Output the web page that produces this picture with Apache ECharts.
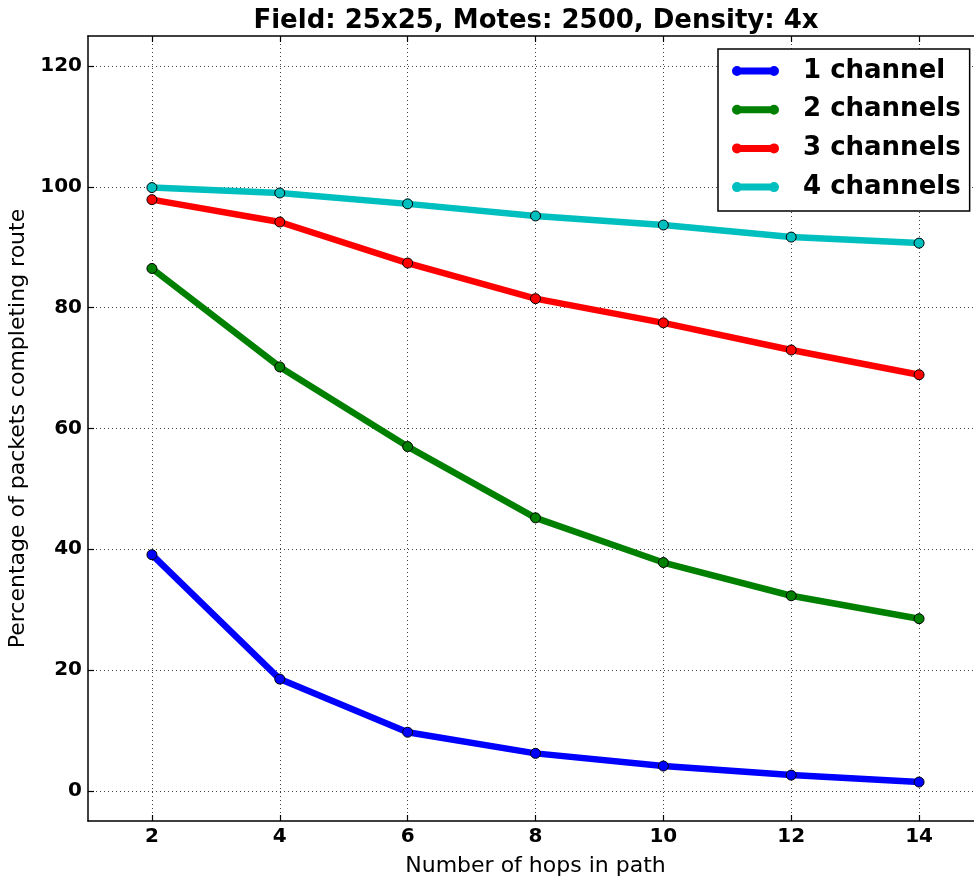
<!DOCTYPE html>
<html>
<head>
<meta charset="utf-8">
<script src="https://cdn.jsdelivr.net/npm/echarts@6/dist/echarts.min.js"></script>
<style>
  html, body { margin: 0; padding: 0; background: #fff; }
  #chart { width: 974px; height: 880px; }
</style>
</head>
<body>
<div id="chart"></div>
<script>
const hops = [2, 4, 6, 8, 10, 12, 14]
const oneChannel = [39.1, 18.5, 9.7, 6.2, 4.1, 2.6, 1.45]
const twoChannels = [86.5, 70.2, 57.0, 45.2, 37.8, 32.3, 28.5]
const threeChannels = [97.9, 94.2, 87.4, 81.5, 77.5, 73.0, 68.9]
const fourChannels = [99.9, 99.0, 97.2, 95.2, 93.7, 91.7, 90.7]
const seriesNames = ['1 channel', '2 channels', '3 channels', '4 channels']
const seriesColors = ['#0000ff', '#008000', '#ff0000', '#00bfbf']
const xTicks = [2, 4, 6, 8, 10, 12, 14]
const yTicks = [0, 20, 40, 60, 80, 100, 120]

const font = 'DejaVu Sans'
// line with a marker at each end, like the matplotlib legend handle
const legendIcon = 'path://M0,5 A5,5 0 1,1 10,5 A5,5 0 1,1 0,5 Z M5,1.5 H42 V8.5 H5 Z M37,5 A5,5 0 1,1 47,5 A5,5 0 1,1 37,5 Z'

const chart = echarts.init(document.getElementById('chart'), null, { renderer: 'canvas' })

function makeSeries(name, values, color) {
  return {
    name,
    type: 'line',
    data: hops.map((h, i) => [h, values[i]]),
    symbol: 'circle',
    symbolSize: 10,
    lineStyle: { color, width: 6.5 },
    itemStyle: { color, borderColor: '#000', borderWidth: 1 },
    emphasis: { disabled: true },
  }
}

const gridLine = { show: true, lineStyle: { color: '#444', width: 1, type: [1, 3] } }

function xAxisBase(position, showLabels) {
  return {
    type: 'value',
    position,
    min: 1,
    max: 15,
    axisLine: { show: true, onZero: false, lineStyle: { color: '#000', width: 1.5 } },
    axisTick: { show: true, inside: true, length: 6, customValues: xTicks, lineStyle: { color: '#000', width: 1.2 } },
    axisLabel: {
      show: showLabels,
      customValues: xTicks,
      color: '#000',
      fontFamily: font,
      fontWeight: 'bold',
      fontSize: 20,
      margin: 6,
    },
    splitLine: showLabels ? gridLine : { show: false },
  }
}

chart.setOption({
  backgroundColor: '#fff',
  animation: false,
  title: {
    text: 'Field: 25x25, Motes: 2500, Density: 4x',
    left: 531,
    textAlign: 'center',
    top: 3,
    textStyle: { fontFamily: font, fontWeight: 'bold', fontSize: 26, color: '#000' },
  },
  grid: { left: 88, top: 36, width: 895, height: 785, outerBoundsMode: 'none', containLabel: false },
  legend: {
    orient: 'vertical',
    left: 718,
    top: 49,
    padding: [8, 9, 10, 14],
    itemGap: 10.7,
    itemWidth: 47,
    itemHeight: 10,
    icon: legendIcon,
    itemStyle: { borderWidth: 0 },
    backgroundColor: '#fff',
    borderColor: '#000',
    borderWidth: 1.5,
    borderRadius: 0,
    textStyle: { fontFamily: font, fontWeight: 'bold', fontSize: 26, color: '#000', lineHeight: 28, padding: [0, 0, 0, 19] },
    data: seriesNames,
  },
  xAxis: [
    Object.assign(xAxisBase('bottom', true), {
      name: 'Number of hops in path',
      nameLocation: 'middle',
      nameGap: 34,
      nameTextStyle: { fontFamily: font, fontSize: 22, color: '#000' },
    }),
    xAxisBase('top', false),
  ],
  yAxis: {
    type: 'value',
    min: -5,
    max: 125,
    name: 'Percentage of packets completing route',
    nameLocation: 'middle',
    nameGap: 58,
    nameTextStyle: { fontFamily: font, fontSize: 22, color: '#000' },
    axisLine: { show: true, onZero: false, lineStyle: { color: '#000', width: 1.5 } },
    axisTick: { show: true, inside: true, length: 6, customValues: yTicks, lineStyle: { color: '#000', width: 1.2 } },
    axisLabel: {
      customValues: yTicks,
      color: '#000',
      fontFamily: font,
      fontWeight: 'bold',
      fontSize: 20,
      margin: 6,
    },
    splitLine: gridLine,
  },
  series: [
    makeSeries(seriesNames[0], oneChannel, seriesColors[0]),
    makeSeries(seriesNames[1], twoChannels, seriesColors[1]),
    makeSeries(seriesNames[2], threeChannels, seriesColors[2]),
    makeSeries(seriesNames[3], fourChannels, seriesColors[3]),
  ],
})
</script>
</body>
</html>
